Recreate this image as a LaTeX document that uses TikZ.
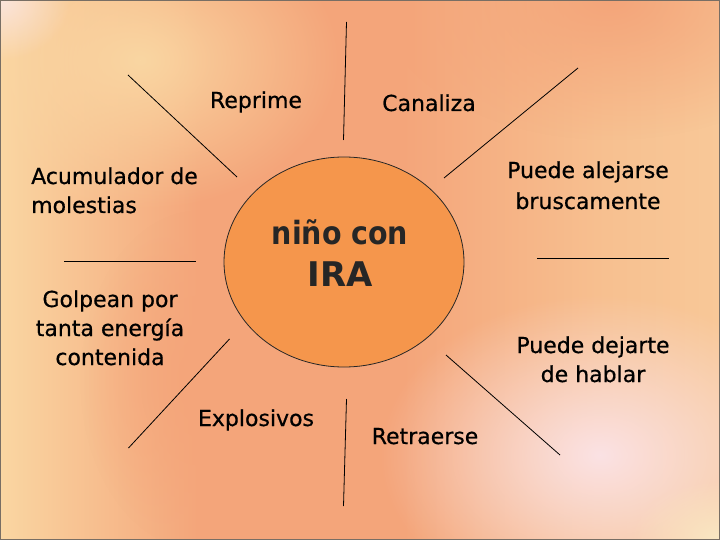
\documentclass[tikz,border=0pt]{standalone}
\usepackage{fontspec}
\setmainfont{DejaVu Sans}
\newfontfamily\lblfont{DejaVu Sans}[FakeBold=0.6]
\usetikzlibrary{fadings,shapes.geometric}
\tikzfading[name=radfade, inner color=transparent!0, outer color=transparent!100]

\definecolor{bgyellow}{RGB}{250,214,162}
\definecolor{bgsalmon}{RGB}{244,165,122}
\definecolor{bgpeach}{RGB}{247,192,144}
\definecolor{bgpeachb}{RGB}{248,200,152}
\definecolor{bgpink}{RGB}{251,226,228}
\definecolor{bgcream}{RGB}{250,232,196}
\definecolor{bgcorner}{RGB}{251,228,220}
\definecolor{circfill}{RGB}{245,150,76}
\definecolor{framegray}{RGB}{120,110,100}

\pgfdeclarehorizontalshading{bgshade}{100bp}{color(0bp)=(bgyellow); color(25bp)=(bgyellow); color(39bp)=(bgsalmon); color(53bp)=(bgsalmon); color(67bp)=(bgpeach); color(75bp)=(bgpeachb); color(100bp)=(bgpeachb)}

\tikzset{
  lbl/.style={font=\lblfont\fontsize{22}{29}\selectfont, inner sep=0pt, text=black},
  ray/.style={draw=black, line width=0.8pt},
  ctext/.style={font=\bfseries\fontsize{32}{36}\selectfont, inner sep=0pt, text=black!85},
}

\begin{document}
\begin{tikzpicture}[x=1pt,y=-1pt]
\useasboundingbox (0,0) rectangle (720,540);
\begin{scope}
\clip (0,0) rectangle (720,540);
\shade[shading=bgshade] (0,0) rectangle (720,540);
\fill[bgyellow, path fading=radfade] (140,60) ellipse [x radius=200, y radius=150];
\fill[bgcorner, path fading=radfade] (0,0) ellipse [x radius=70, y radius=60];
\fill[bgsalmon, path fading=radfade] (610,0) ellipse [x radius=230, y radius=140];
\fill[bgsalmon, path fading=radfade] (200,380) ellipse [x radius=120, y radius=170];
\fill[bgpink, path fading=radfade] (600,455) ellipse [x radius=220, y radius=160];
\fill[bgcream, path fading=radfade] (720,540) ellipse [x radius=90, y radius=60];
\end{scope}
\draw[framegray, line width=1pt] (0.5,0.5) rectangle (719.5,539.5);

% central ellipse
\node (c) [ellipse, draw=black!85, line width=0.8pt, fill=circfill, minimum width=240, minimum height=210, inner sep=0pt] at (344,262) {};
\node (c1) [ctext, anchor=base, xscale=0.89, transform shape] at (340,244) {niño con};
\node (c2) [ctext, anchor=base, font=\bfseries\fontsize{34}{36}\selectfont] at (340,286) {IRA};

% rays
\coordinate (t1) at (346.5,22);  \coordinate (t2) at (343.5,140);
\coordinate (tl1) at (128,75);   \coordinate (tl2) at (237,177);
\coordinate (tr1) at (578,68);   \coordinate (tr2) at (444,178);
\coordinate (l1) at (64,261);    \coordinate (l2) at (196,261);
\coordinate (r1) at (537,258);   \coordinate (r2) at (669,258);
\coordinate (bl1) at (229.5,339); \coordinate (bl2) at (128.5,448);
\coordinate (b1) at (346.5,399); \coordinate (b2) at (343.5,506);
\coordinate (br1) at (446,355);  \coordinate (br2) at (560,455);
\draw[ray] (t1) -- (t2);
\draw[ray] (tl1) -- (tl2);
\draw[ray] (tr1) -- (tr2);
\draw[ray] (l1) -- (l2);
\draw[ray] (r1) -- (r2);
\draw[ray] (bl1) -- (bl2);
\draw[ray] (b1) -- (b2);
\draw[ray] (br1) -- (br2);

% labels
\node (reprime) [lbl, anchor=base] at (256,108) {Reprime};
\node (canaliza) [lbl, anchor=base] at (429,111) {Canaliza};
\node (acum) [lbl, align=left, anchor=base west] at (31,213) {Acumulador de\\molestias};
\node (alejar) [lbl, align=center, anchor=base] at (588,209) {Puede alejarse\\[2pt]bruscamente};
\node (golpe) [lbl, align=center, anchor=base] at (110,365) {Golpean por\\tanta energía\\contenida};
\node (dejar) [lbl, align=center, anchor=base] at (593,382) {Puede dejarte\\de hablar};
\node (explo) [lbl, anchor=base] at (256,426) {Explosivos};
\node (retra) [lbl, anchor=base] at (425,444) {Retraerse};
\end{tikzpicture}
\end{document}
